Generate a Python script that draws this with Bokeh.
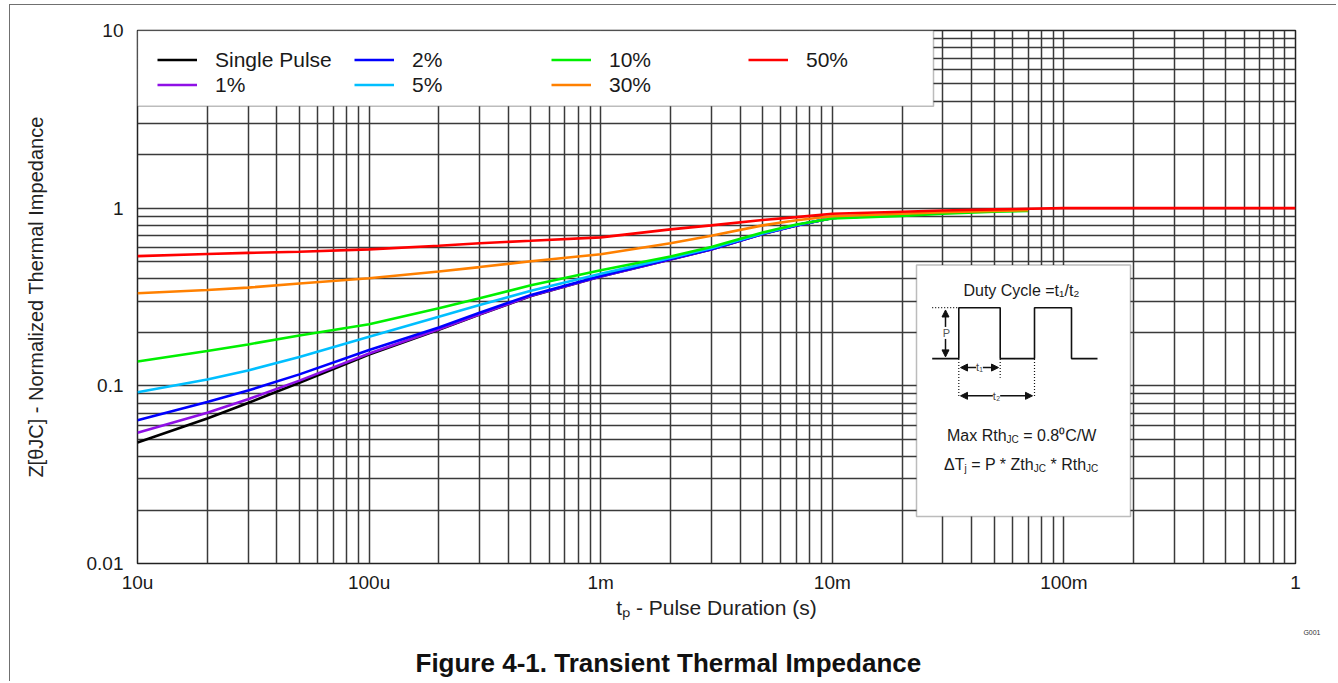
import math
from bokeh.plotting import figure
from bokeh.models import (Range1d, FixedTicker, CustomJSTickFormatter, Legend, LegendItem,
                          BoxAnnotation, Label, Title, Arrow, NormalHead)
from bokeh.embed import file_html
from bokeh.resources import INLINE

# ---------------- data ----------------
t_main = [1e-5, 2e-5, 3e-5, 5e-5, 1e-4, 2e-4, 3e-4, 5e-4, 1e-3, 2e-3, 3e-3, 5e-3, 7e-3, 1e-2, 2e-2]
t_long = t_main + [3e-2, 5e-2, 7e-2]
t_red = t_main + [3e-2, 5e-2, 1e-1, 1.0]

z_single = [0.048, 0.0655, 0.080, 0.104, 0.150, 0.207, 0.252, 0.32, 0.412, 0.515, 0.585, 0.715, 0.80, 0.88, 0.92]
z_1pct = [0.0545, 0.0705, 0.084, 0.107, 0.152, 0.208, 0.253, 0.321, 0.412, 0.515, 0.585, 0.715, 0.80, 0.88, 0.92]
z_2pct = [0.064, 0.081, 0.094, 0.116, 0.159, 0.213, 0.258, 0.325, 0.415, 0.517, 0.587, 0.717, 0.80, 0.88, 0.92]
z_5pct = [0.092, 0.1085, 0.122, 0.1455, 0.189, 0.245, 0.285, 0.343, 0.428, 0.525, 0.595, 0.72, 0.805, 0.88, 0.92]
z_10pct = [0.137, 0.157, 0.171, 0.192, 0.222, 0.273, 0.311, 0.368, 0.447, 0.535, 0.605, 0.73, 0.81, 0.875, 0.905,
           0.93, 0.955, 0.966]
z_30pct = [0.332, 0.346, 0.357, 0.377, 0.403, 0.440, 0.466, 0.503, 0.55, 0.634, 0.70, 0.80, 0.855, 0.90, 0.93,
           0.95, 0.965, 0.975]
z_50pct = [0.537, 0.552, 0.560, 0.569, 0.586, 0.615, 0.635, 0.655, 0.685, 0.76, 0.80, 0.857, 0.89, 0.93, 0.955,
           0.97, 0.985, 1.0, 1.0]

series_names = ["Single Pulse", "1%", "2%", "5%", "10%", "30%", "50%"]
series_t = [t_main, t_main, t_main, t_main, t_long, t_long, t_red]
series_z = [z_single, z_1pct, z_2pct, z_5pct, z_10pct, z_30pct, z_50pct]
series_colors = ["#000000", "#8F10E6", "#0000FF", "#00BFFF", "#00F000", "#FF8000", "#FF0000"]

x_tick_values = [1e-5, 1e-4, 1e-3, 1e-2, 1e-1, 1.0]
x_tick_labels = ["10u", "100u", "1m", "10m", "100m", "1"]
y_tick_values = [0.01, 0.1, 1.0, 10.0]
y_tick_labels = ["0.01", "0.1", "1", "10"]

FONT = "Liberation Sans"
GRID = "#3a3a3a"

# reference-pixel -> data helpers (decorative inset / legend box only)
FL, FR, FT, FB = 137.0, 1295.0, 30.0, 564.0
def X(px):
    return 10 ** (-5 + 5 * (px - FL) / (FR - FL))
def Y(py):
    return 10 ** (1 - 3 * (py - FT) / (FB - FT))

p = figure(x_axis_type="log", y_axis_type="log",
           x_range=Range1d(1e-5, 1.0), y_range=Range1d(0.01, 10.0),
           width=1327, height=677,
           min_border_left=127, min_border_right=42, min_border_top=25, min_border_bottom=118,
           output_backend="svg", toolbar_location=None,
           background_fill_color="white", border_fill_color="white",
           styles={"margin-left": "9px", "margin-top": "4px",
                   "border-top": "1px solid #707070", "border-left": "1px solid #707070"})

p.outline_line_color = "#222222"
p.outline_line_width = 1.5

x_minor = [m * 10.0 ** d for d in range(-5, 0) for m in range(2, 10)]
y_minor = [m * 10.0 ** d for d in range(-2, 1) for m in range(2, 10)]
p.xaxis.ticker = FixedTicker(ticks=x_tick_values, minor_ticks=x_minor)
p.yaxis.ticker = FixedTicker(ticks=y_tick_values, minor_ticks=y_minor)

xmap = {str(round(math.log10(v))): l for v, l in zip(x_tick_values, x_tick_labels)}
ymap = {str(round(math.log10(v))): l for v, l in zip(y_tick_values, y_tick_labels)}
JS = """
    const k = String(Math.round(Math.log10(tick)));
    return (k in m) ? m[k] : "";
"""
p.xaxis.formatter = CustomJSTickFormatter(args=dict(m=xmap), code=JS)
p.yaxis.formatter = CustomJSTickFormatter(args=dict(m=ymap), code=JS)

for ax in (p.xaxis[0], p.yaxis[0]):
    ax.axis_line_color = None
    ax.major_tick_line_color = None
    ax.minor_tick_line_color = None
    ax.major_tick_out = 0
    ax.minor_tick_out = 0
    ax.major_label_text_font = FONT
    ax.major_label_text_font_size = "19px"
    ax.major_label_text_color = "#1a1a1a"
    ax.axis_label_text_font = FONT
    ax.axis_label_text_font_style = "normal"
    ax.axis_label_text_color = "#222222"

p.xaxis.axis_label = "tₚ - Pulse Duration (s)"
p.xaxis.axis_label_text_font_size = "21px"
p.xaxis.major_label_standoff = 8
p.xaxis.axis_label_standoff = 0
p.yaxis.axis_label = "Z[θJC] - Normalized Thermal Impedance"
p.yaxis.axis_label_text_font_size = "20px"
p.yaxis.major_label_standoff = 14
p.yaxis.axis_label_standoff = 37

for g in (p.xgrid[0], p.ygrid[0]):
    g.grid_line_color = GRID
    g.grid_line_width = 1.5
    g.minor_grid_line_color = GRID
    g.minor_grid_line_width = 1.5

renderers = []
for name, t, z, c in zip(series_names, series_t, series_z, series_colors):
    renderers.append(p.line(t, z, line_color=c, line_width=2.6))

# legend box (white, bordered) covering the grid
leg_box = BoxAnnotation(left=X(FL), right=X(933), top=Y(FT), bottom=Y(106),
                        fill_color="white", fill_alpha=1.0,
                        line_color="#222222", line_width=1.5)
p.add_layout(leg_box)

legend = Legend(items=[LegendItem(label=n, renderers=[r]) for n, r in zip(series_names, renderers)],
                orientation="vertical", nrows=2,
                location=(15, 461), margin=0, padding=5, spacing=0,
                glyph_width=40, glyph_height=25, label_height=25, label_width=139,
                label_standoff=18,
                label_text_font=FONT, label_text_font_size="21px", label_text_color="#1a1a1a",
                background_fill_alpha=0.0, border_line_alpha=0.0)
p.add_layout(legend)

# ---------------- inset: duty cycle diagram ----------------
inset = BoxAnnotation(left=X(916), right=X(1130), top=Y(265), bottom=Y(517),
                      fill_color="white", fill_alpha=1.0, line_color="#222222", line_width=1.5)
p.add_layout(inset)

def head():
    return NormalHead(size=7, fill_color="#111111", line_color="#111111", line_width=1)

for (x0, y0, x1, y1) in [(945, 357, 945, 310), (960, 367.7, 998, 367.7), (960, 396, 1032, 396)]:
    p.add_layout(Arrow(x_start=X(x0), y_start=Y(y0), x_end=X(x1), y_end=Y(y1),
                       start=head(), end=head(), line_color="#111111", line_width=1.5))

def lab(px, py, text, size, align="left", baseline="alphabetic", color="#1a1a1a", bg=None):
    p.add_layout(Label(x=X(px), y=Y(py), text=text, text_font=FONT, text_font_size=f"{size}px",
                       text_align=align, text_baseline=baseline, text_color=color,
                       background_fill_color=bg))

AW = {' ': 278, 'M': 833, 'a': 556, 'x': 500, 'R': 722, 't': 278, 'h': 556, '=': 584, '0': 556,
      '.': 278, '8': 556, '⁰': 333, 'C': 722, '/': 278, 'W': 944, 'Δ': 668, 'T': 611, 'j': 222,
      'P': 667, '*': 389, 'Z': 611, 'J': 500}
def tw(s, size):
    return sum(AW.get(ch, 556) for ch in s) * size / 1000.0

def compose(parts, x0, base):
    x = x0
    for text, sub in parts:
        size = 10 if sub else 16
        lead = len(text) - len(text.lstrip(" "))
        x += tw(" " * lead, size)
        body = text.strip(" ")
        lab(x, base + (4 if sub else 0), body, size)
        x += tw(body, size) + tw(" " * (len(text) - lead - len(body)), size)

lab(1021, 290, "Duty Cycle =t₁/t₂", 16, align="center")
compose([("Max Rth", False), ("JC", True), (" = 0.8⁰C/W", False)], 946.5, 435.5)
compose([("ΔT", False), ("j", True), (" = P * Zth", False), ("JC", True), (" * Rth", False), ("JC", True)],
        943.5, 464.5)

lab(946, 333, "P", 11, align="center", baseline="middle", color="#555555", bg="white")
lab(979, 367.5, "t₁", 11, align="center", baseline="middle", color="#444444", bg="white")
lab(996, 396, "t₂", 11, align="center", baseline="middle", color="#444444", bg="white")

# pulse waveform and dotted guides (decoration, drawn above the inset box)
pulse_px = [931.7, 958.3, 958.3, 999.7, 999.7, 1034, 1034, 1071, 1071, 1097]
pulse_py = [358.7, 358.7, 307.7, 307.7, 358.7, 358.7, 307.7, 307.7, 358.7, 358.7]
p.line([X(v) for v in pulse_px], [Y(v) for v in pulse_py], line_color="#111111", line_width=1.6,
       level="overlay")
for (x0, y0, x1, y1) in [(931.7, 307.7, 958.3, 307.7), (958.3, 359, 958.3, 398),
                         (999.7, 359, 999.7, 378), (1034, 359, 1034, 398)]:
    p.line([X(x0), X(x1)], [Y(y0), Y(y1)], line_color="#111111", line_width=1.2,
           line_dash="1 2", level="overlay")

# ---------------- titles below ----------------
p.add_layout(Title(text="G001", align="right", offset=-25, text_font=FONT, text_font_size="7px",
                   text_font_style="normal", text_color="#333333"), "below")
p.add_layout(Title(text="Figure 4-1. Transient Thermal Impedance", align="left", offset=278,
                   text_font=FONT, text_font_size="26px", text_font_style="bold",
                   text_color="#111111"), "below")

open("out.html", "w").write(file_html(p, INLINE))
